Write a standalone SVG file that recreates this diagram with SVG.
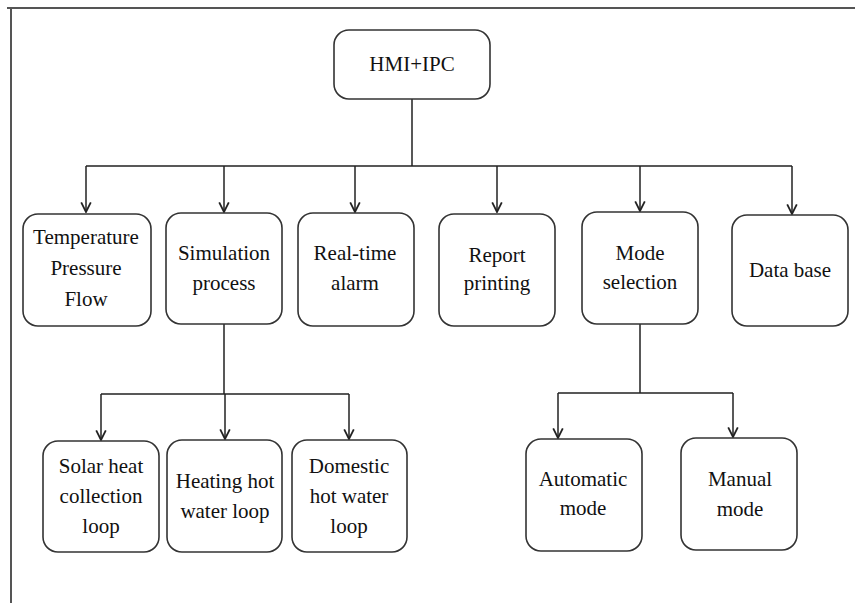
<svg xmlns="http://www.w3.org/2000/svg" width="855" height="603" viewBox="0 0 855 603">
<defs>
<marker id="arr" markerUnits="userSpaceOnUse" markerWidth="12" markerHeight="12" viewBox="0 0 10 10" refX="9" refY="5" orient="auto">
<path d="M1,1 L9,5 L1,9" fill="none" stroke="#222" stroke-width="1.5"/>
</marker>
</defs>
<style>
.box{fill:#fff;stroke:#333;stroke-width:1.6}
.t{font-family:"Liberation Serif","Times New Roman",Times,"DejaVu Serif",serif;font-size:21px;fill:#111;text-anchor:middle}
.c{fill:none;stroke:#222;stroke-width:1.5}
.a{marker-end:url(#arr)}
.frame{fill:none;stroke:#555;stroke-width:2}
</style>
<rect width="855" height="603" fill="#fff"/>
<path class="frame" d="M7,8 H855 M11,8 V603"/>
<g id="connectors">
<path class="c" d="M412,99 V166 M86,166 H792"/>
<path class="c a" d="M86,166 V212"/>
<path class="c a" d="M224,166 V212"/>
<path class="c a" d="M355,166 V212"/>
<path class="c a" d="M497,166 V212"/>
<path class="c a" d="M640,166 V211"/>
<path class="c a" d="M792,166 V214"/>
<path class="c" d="M224,324 V394 M101,394 H349"/>
<path class="c a" d="M101,394 V440"/>
<path class="c a" d="M225,394 V439"/>
<path class="c a" d="M349,394 V439"/>
<path class="c" d="M640,324 V393 M558,393 H733"/>
<path class="c a" d="M558,393 V438"/>
<path class="c a" d="M733,393 V437"/>
</g>
<g id="hmi"><rect class="box" x="334" y="30" width="156" height="69" rx="15"/><text class="t" x="412" y="71">HMI+IPC</text></g>
<g id="temp"><rect class="box" x="23" y="214" width="128" height="112" rx="15"/><text class="t" x="86" y="244">Temperature</text><text class="t" x="86" y="275">Pressure</text><text class="t" x="86" y="306">Flow</text></g>
<g id="sim"><rect class="box" x="166" y="213" width="116" height="111" rx="15"/><text class="t" x="224" y="260">Simulation</text><text class="t" x="224" y="290">process</text></g>
<g id="alarm"><rect class="box" x="298" y="213" width="116" height="113" rx="15"/><text class="t" x="355" y="260">Real-time</text><text class="t" x="355" y="290">alarm</text></g>
<g id="report"><rect class="box" x="439" y="214" width="116" height="112" rx="15"/><text class="t" x="497" y="262">Report</text><text class="t" x="497" y="290">printing</text></g>
<g id="mode"><rect class="box" x="582" y="212" width="116" height="112" rx="15"/><text class="t" x="640" y="260">Mode</text><text class="t" x="640" y="289">selection</text></g>
<g id="database"><rect class="box" x="732" y="215" width="116" height="111" rx="15"/><text class="t" x="790" y="277">Data base</text></g>
<g id="solar"><rect class="box" x="43" y="441" width="116" height="111" rx="15"/><text class="t" x="101" y="473">Solar heat</text><text class="t" x="101" y="503">collection</text><text class="t" x="101" y="533">loop</text></g>
<g id="heating"><rect class="box" x="167" y="440" width="115" height="112" rx="15"/><text class="t" x="225" y="488">Heating hot</text><text class="t" x="225" y="518">water loop</text></g>
<g id="domestic"><rect class="box" x="292" y="440" width="115" height="112" rx="15"/><text class="t" x="349" y="473">Domestic</text><text class="t" x="349" y="503">hot water</text><text class="t" x="349" y="533">loop</text></g>
<g id="automatic"><rect class="box" x="526" y="439" width="116" height="112" rx="15"/><text class="t" x="583" y="486">Automatic</text><text class="t" x="583" y="515">mode</text></g>
<g id="manual"><rect class="box" x="681" y="438" width="116" height="112" rx="15"/><text class="t" x="740" y="486">Manual</text><text class="t" x="740" y="516">mode</text></g>
</svg>
